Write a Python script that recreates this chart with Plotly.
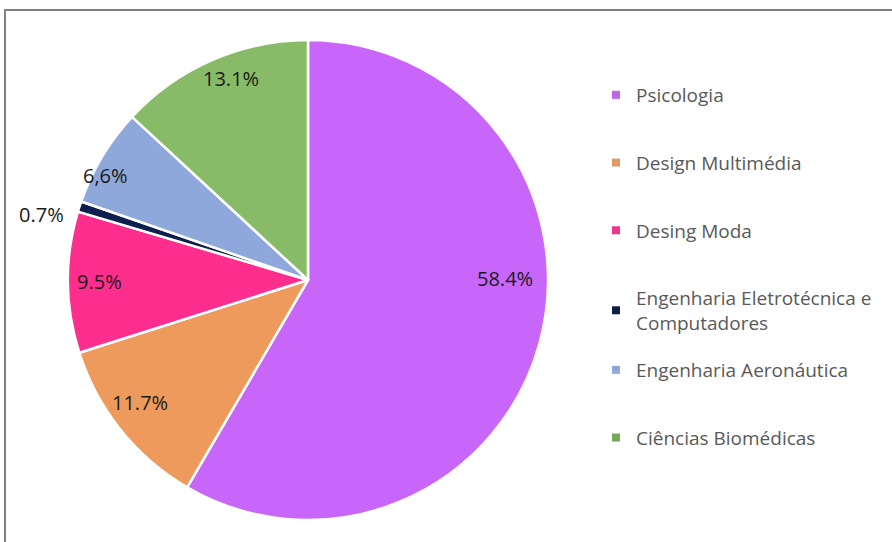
import math
import plotly.graph_objects as go

categories = ["Psicologia", "Design Multimédia", "Desing Moda",
              "Engenharia Eletrotécnica e<br>Computadores",
              "Engenharia Aeronáutica", "Ciências Biomédicas"]
values = [58.4, 11.7, 9.5, 0.7, 6.6, 13.1]
value_labels = ["58.4%", "11.7%", "9.5%", "0.7%", "6,6%", "13.1%"]
slice_colors = ["#C866FA", "#EE9A5C", "#FE2E8E", "#0C1F4F", "#8EA8DB", "#88BB68"]
legend_colors = ["#BC66EC", "#E39868", "#F0358C", "#0E1D4A", "#8FA8D8", "#72A85A"]
# label placement style (relative to each slice's bisector)
label_radius = [0.82, 0.867, 0.867, 1.145, 0.95, 0.90]   # fraction of pie radius
label_angle_shift = [-15.7, 2.5, 0.0, -4.0, -3.6, 2.6]   # degrees
legend_ids = ["legend", "legend", "legend", "legend", "legend2", "legend2"]

W, H = 892, 542
dom_x = [68 / W, 548 / W]
dom_y = [1 - 520 / H, 1 - 40 / H]

fig = go.Figure()
fig.add_trace(go.Pie(
    labels=categories, values=values, text=value_labels,
    textinfo="none",
    sort=False, direction="clockwise", rotation=0,
    marker=dict(colors=slice_colors, line=dict(color="white", width=2.5)),
    showlegend=False, hoverinfo="label+text",
    domain=dict(x=dom_x, y=dom_y),
))
for i, (name, col) in enumerate(zip(categories, legend_colors)):
    fig.add_trace(go.Scatter(
        x=[None], y=[None], mode="markers", name=name, legendgroup=f"g{i}",
        legend=legend_ids[i],
        marker=dict(symbol="square", size=8, color=col),
    ))

# value labels placed around each slice's bisector (angles from the data)
cx_px = (dom_x[0] + dom_x[1]) / 2 * W
cy_px = (dom_y[0] + dom_y[1]) / 2 * H
radius_px = (dom_x[1] - dom_x[0]) * W / 2
total = sum(values)
annotations = []
cum = 0.0
for v, lab, f, sh in zip(values, value_labels, label_radius, label_angle_shift):
    theta = 2 * math.pi * (cum + v / 2) / total + math.radians(sh)
    cum += v
    x_px = cx_px + f * radius_px * math.sin(theta)
    y_px = cy_px + f * radius_px * math.cos(theta)
    annotations.append(dict(
        x=x_px / W, y=y_px / H, xref="paper", yref="paper", text=lab,
        showarrow=False, xanchor="center", yanchor="middle",
        font=dict(family="Open Sans, sans-serif", size=20, color="#1a1a1a"),
    ))

legend_font = dict(family="Open Sans, sans-serif", size=19, color="#595959")
fig.update_layout(
    width=W, height=H,
    margin=dict(l=0, r=0, t=0, b=0),
    paper_bgcolor="white", plot_bgcolor="white",
    xaxis=dict(visible=False), yaxis=dict(visible=False),
    legend=dict(x=596 / W, y=1 - 76 / H, xanchor="left", yanchor="top",
                tracegroupgap=40, itemwidth=30, font=legend_font,
                bgcolor="rgba(0,0,0,0)"),
    legend2=dict(x=596 / W, y=1 - 351 / H, xanchor="left", yanchor="top",
                 tracegroupgap=40, itemwidth=30, font=legend_font,
                 bgcolor="rgba(0,0,0,0)"),
    annotations=annotations,
    shapes=[dict(type="rect", xref="paper", yref="paper",
                 x0=5 / W, x1=1.02, y0=-0.02, y1=1 - 10 / H,
                 line=dict(color="#7f7f7f", width=2), fillcolor="rgba(0,0,0,0)")],
)
fig.write_html("out.html")
